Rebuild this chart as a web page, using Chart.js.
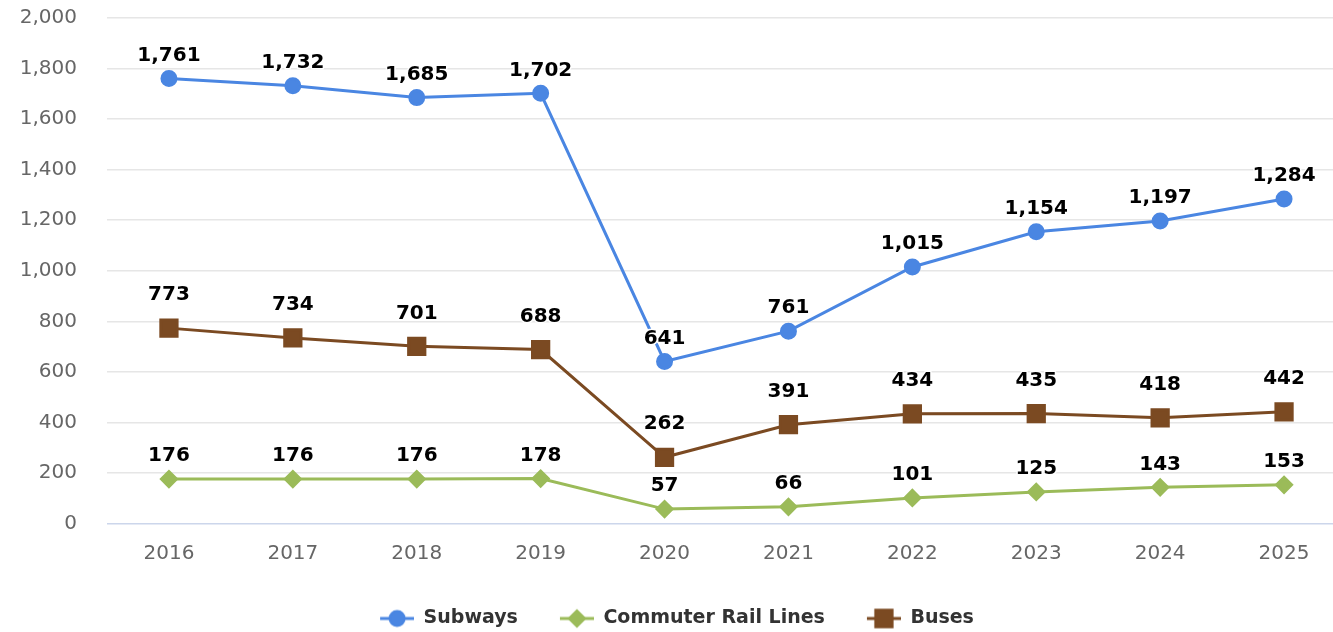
<!DOCTYPE html>
<html>
<head>
<meta charset="utf-8">
<script src="https://cdn.jsdelivr.net/npm/chart.js@4"></script>
<style>
    body { margin: 0; overflow: hidden; background: #fff; }
    #wrap { width: 1333px; height: 632px; overflow: hidden; }
</style>
</head>
<body>
<div id="wrap"><canvas id="ridership" width="1360" height="638"></canvas></div>
<script>
const years = ['2016', '2017', '2018', '2019', '2020', '2021', '2022', '2023', '2024', '2025'];
const subways = [1761, 1732, 1685, 1702, 641, 761, 1015, 1154, 1197, 1284];
const commuterRail = [176, 176, 176, 178, 57, 66, 101, 125, 143, 153];
const buses = [773, 734, 701, 688, 262, 391, 434, 435, 418, 442];
const yTicks = [0, 200, 400, 600, 800, 1000, 1200, 1400, 1600, 1800, 2000];

const BLUE = '#4a86e2';
const GREEN = '#9bbb59';
const BROWN = '#7b4a22';
const LABEL_FONT = 'bold 20px "DejaVu Sans", sans-serif';
const LEGEND_GAP = 32;   // blank room left of each legend symbol
const SYMBOL_W = 34;

// legend symbol: short line with the marker on top (drawn at the right of the box)
const legendSymbol = (color, style, radius) => {
    const c = document.createElement('canvas');
    c.width = LEGEND_GAP + SYMBOL_W;
    c.height = 24;
    const ctx = c.getContext('2d');
    ctx.strokeStyle = color;
    ctx.lineWidth = 3;
    ctx.beginPath();
    ctx.moveTo(LEGEND_GAP, 12);
    ctx.lineTo(LEGEND_GAP + SYMBOL_W, 12);
    ctx.stroke();
    ctx.fillStyle = color;
    Chart.helpers.drawPoint(ctx, { pointStyle: style, radius: radius, rotation: 0, borderWidth: 1 }, LEGEND_GAP + SYMBOL_W / 2, 12);
    ctx.fill();
    return c;
};

// value labels above each point, white outline like the original
const valueLabels = {
    id: 'valueLabels',
    afterDatasetsDraw(chart) {
        const ctx = chart.ctx;
        ctx.save();
        ctx.font = LABEL_FONT;
        ctx.textAlign = 'center';
        ctx.textBaseline = 'middle';
        ctx.lineJoin = 'round';
        chart.data.datasets.forEach((ds, i) => {
            const meta = chart.getDatasetMeta(i);
            meta.data.forEach((pt, j) => {
                const txt = ds.data[j].toLocaleString('en-US');
                const y = pt.y - ds.labelOffset;
                ctx.strokeStyle = '#fff';
                ctx.lineWidth = 3;
                ctx.strokeText(txt, pt.x, y);
                ctx.fillStyle = '#000';
                ctx.fillText(txt, pt.x, y);
            });
        });
        ctx.restore();
    }
};

const symbols = [
    legendSymbol(BLUE, 'circle', 7),
    legendSymbol(GREEN, 'rectRot', 7.5),
    legendSymbol(BROWN, 'rect', 11.5)
];

const ctxRidership = document.getElementById('ridership').getContext('2d');
new Chart(ctxRidership, {
    type: 'line',
    data: {
        labels: years,
        datasets: [{
            label: 'Subways',
            data: subways,
            borderColor: BLUE,
            backgroundColor: BLUE,
            pointBackgroundColor: BLUE,
            pointBorderColor: BLUE,
            pointStyle: 'circle',
            pointRadius: 7,
            borderWidth: 3,
            labelOffset: 23
        }, {
            label: 'Commuter Rail Lines',
            data: commuterRail,
            borderColor: GREEN,
            backgroundColor: GREEN,
            pointBackgroundColor: GREEN,
            pointBorderColor: GREEN,
            pointStyle: 'rectRot',
            pointRadius: 7.5,
            borderWidth: 3,
            labelOffset: 23
        }, {
            label: 'Buses',
            data: buses,
            borderColor: BROWN,
            backgroundColor: BROWN,
            pointBackgroundColor: BROWN,
            pointBorderColor: BROWN,
            pointStyle: 'rect',
            pointRadius: 11.5,
            borderWidth: 3,
            labelOffset: 33
        }]
    },
    options: {
        responsive: false,
        animation: false,
        layout: { autoPadding: false, padding: { top: 18, right: 14, bottom: 0, left: -24 } },
        plugins: {
            tooltip: { enabled: false },
            legend: {
                position: 'bottom',
                labels: {
                    usePointStyle: true,
                    pointStyleWidth: LEGEND_GAP + SYMBOL_W,
                    padding: 10,
                    color: '#333',
                    font: { family: '"DejaVu Sans", sans-serif', size: 19, weight: 'bold' },
                    generateLabels(chart) {
                        const items = Chart.defaults.plugins.legend.labels.generateLabels(chart);
                        items.forEach((it, i) => { it.pointStyle = symbols[i]; });
                        return items;
                    }
                }
            }
        },
        scales: {
            x: {
                offset: true,
                afterFit(scale) {
                    scale.height = 75.5;
                },
                grid: { display: false, drawTicks: false },
                border: { color: '#ccd6eb', width: 1 },
                ticks: {
                    color: '#666',
                    padding: 18,
                    font: { family: '"DejaVu Sans", sans-serif', size: 20 }
                }
            },
            y: {
                min: 0,
                max: 2000,
                afterBuildTicks(scale) {
                    scale.ticks = yTicks.map(v => ({ value: v }));
                },
                afterFit(scale) {
                    scale.width = 131;
                    scale.paddingTop = 0;
                    scale.paddingBottom = 0;
                },
                grid: {
                    drawTicks: false,
                    color: ctx => ctx.tick.value === 0 ? '#ccd6eb' : '#e6e6e6',
                    lineWidth: 1.5
                },
                border: { display: false },
                ticks: {
                    color: '#666',
                    padding: 30,
                    font: { family: '"DejaVu Sans", sans-serif', size: 20 },
                    callback: v => v.toLocaleString('en-US')
                }
            }
        }
    },
    plugins: [valueLabels]
});
</script>
</body>
</html>
